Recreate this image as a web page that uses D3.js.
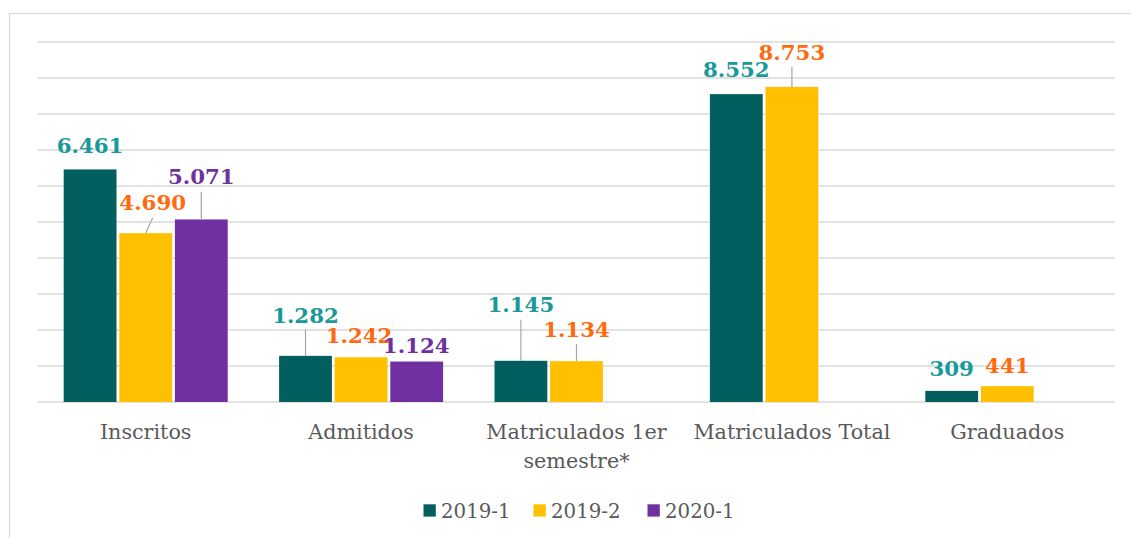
<!DOCTYPE html>
<html>
<head>
<meta charset="utf-8">
<script src="https://cdn.jsdelivr.net/npm/d3@7"></script>
<style>
  html, body { margin: 0; padding: 0; background: #ffffff; }
  svg { display: block; }
</style>
</head>
<body>
<svg id="chart" width="1131" height="538"></svg>
<script>
// ---- data ----
const categories = ["Inscritos", "Admitidos", "Matriculados 1er semestre*", "Matriculados Total", "Graduados"];
const seriesNames = ["2019-1", "2019-2", "2020-1"];
const values2019_1 = [6461, 1282, 1145, 8552, 309];
const values2019_2 = [4690, 1242, 1134, 8753, 441];
const values2020_1 = [5071, 1124, null, null, null];
const yTicks = [0, 1000, 2000, 3000, 4000, 5000, 6000, 7000, 8000, 9000, 10000];

// ---- layout / style (not data) ----
const barColors = ["#035f5f", "#ffc000", "#7030a0"];
const labelColors = ["#179a99", "#ff6a0e", "#7030a0"];
// label nudges [dx, dy] from the bar-top centre, per series per category
const labelNudge = [
  [[0, -24], [0, -41], [0, -56], [0, -25], [0, -22.5]],
  [[7, -30.5], [-2, -22], [0, -32], [0, -35], [0, -21]],
  [[0, -42.7], [-0.5, -16.5], null, null, null]
];

const seriesValues = [values2019_1, values2019_2, values2020_1];

const svg = d3.select("#chart");
const plot = { left: 38, right: 1115, top: 42, bottom: 402 };

// outer border
svg.append("rect")
  .attr("x", 9.5).attr("y", 13.5)
  .attr("width", 1140).attr("height", 560)
  .attr("fill", "none").attr("stroke", "#d9d9d9").attr("stroke-width", 1.2);

const x0 = d3.scaleBand()
  .domain(categories)
  .range([plot.left, plot.right])
  .paddingInner(0.2386)
  .paddingOuter(0.1193);

const x1 = d3.scaleBand()
  .domain(seriesNames)
  .range([0, x0.bandwidth()])
  .paddingInner(0.05);

const y = d3.scaleLinear()
  .domain([0, 10000])
  .range([plot.bottom, plot.top]);

// gridlines
svg.append("g").selectAll("line")
  .data(yTicks)
  .join("line")
  .attr("x1", plot.left).attr("x2", plot.right)
  .attr("y1", d => y(d)).attr("y2", d => y(d))
  .attr("stroke", "#d9d9d9").attr("stroke-width", 1.6);

// flattened bar records
const recs = [];
seriesNames.forEach((s, si) => {
  categories.forEach((c, ci) => {
    const v = seriesValues[si][ci];
    if (v != null) recs.push({ s, si, c, ci, v });
  });
});

// bars
svg.append("g").selectAll("rect")
  .data(recs)
  .join("rect")
  .attr("x", d => x0(d.c) + x1(d.s))
  .attr("y", d => y(d.v))
  .attr("width", x1.bandwidth())
  .attr("height", d => y(0) - y(d.v))
  .attr("fill", d => barColors[d.si]);

const fmt = d3.formatLocale({ decimal: ",", thousands: ".", grouping: [3], currency: ["", ""] }).format(",d");

// leader lines + labels
const lab = svg.append("g");
recs.forEach(d => {
  const cx = x0(d.c) + x1(d.s) + x1.bandwidth() / 2;
  const top = y(d.v);
  const n = labelNudge[d.si][d.ci];
  const lx = cx + n[0];
  const ly = top + n[1];
  if (n[1] < -27) {
    lab.append("line")
      .attr("x1", cx).attr("y1", top)
      .attr("x2", lx).attr("y2", ly + 15)
      .attr("stroke", "#a6a6a6").attr("stroke-width", 1.2);
  }
  lab.append("text")
    .attr("x", lx).attr("y", ly)
    .attr("dy", "0.36em")
    .attr("text-anchor", "middle")
    .attr("font-family", "'DejaVu Serif', Georgia, serif")
    .attr("font-weight", "bold")
    .attr("font-size", "21.3px")
    .attr("fill", labelColors[d.si])
    .text(fmt(d.v));
});

// category axis labels (wrapped like the original)
const catLines = {
  "Inscritos": ["Inscritos"],
  "Admitidos": ["Admitidos"],
  "Matriculados 1er semestre*": ["Matriculados 1er", "semestre*"],
  "Matriculados Total": ["Matriculados Total"],
  "Graduados": ["Graduados"]
};
const axisG = svg.append("g");
categories.forEach(c => {
  const t = axisG.append("text")
    .attr("x", x0(c) + x0.bandwidth() / 2)
    .attr("y", 432)
    .attr("text-anchor", "middle")
    .attr("font-family", "'DejaVu Serif', Georgia, serif")
    .attr("font-size", "20.7px")
    .attr("fill", "#595959");
  catLines[c].forEach((line, i) => {
    t.append("tspan")
      .attr("x", x0(c) + x0.bandwidth() / 2)
      .attr("y", 432 + i * 28.3)
      .attr("dy", "0.36em")
      .text(line);
  });
});

// legend
const legendX = [423.5, 533.5, 647.5];
const legend = svg.append("g");
seriesNames.forEach((s, i) => {
  legend.append("rect")
    .attr("x", legendX[i]).attr("y", 504.3)
    .attr("width", 12.3).attr("height", 12.3)
    .attr("fill", barColors[i]);
  legend.append("text")
    .attr("x", legendX[i] + 17.5).attr("y", 510.5)
    .attr("dy", "0.36em")
    .attr("font-family", "'DejaVu Serif', Georgia, serif")
    .attr("font-size", "19.8px")
    .attr("fill", "#595959")
    .text(s);
});
</script>
</body>
</html>
